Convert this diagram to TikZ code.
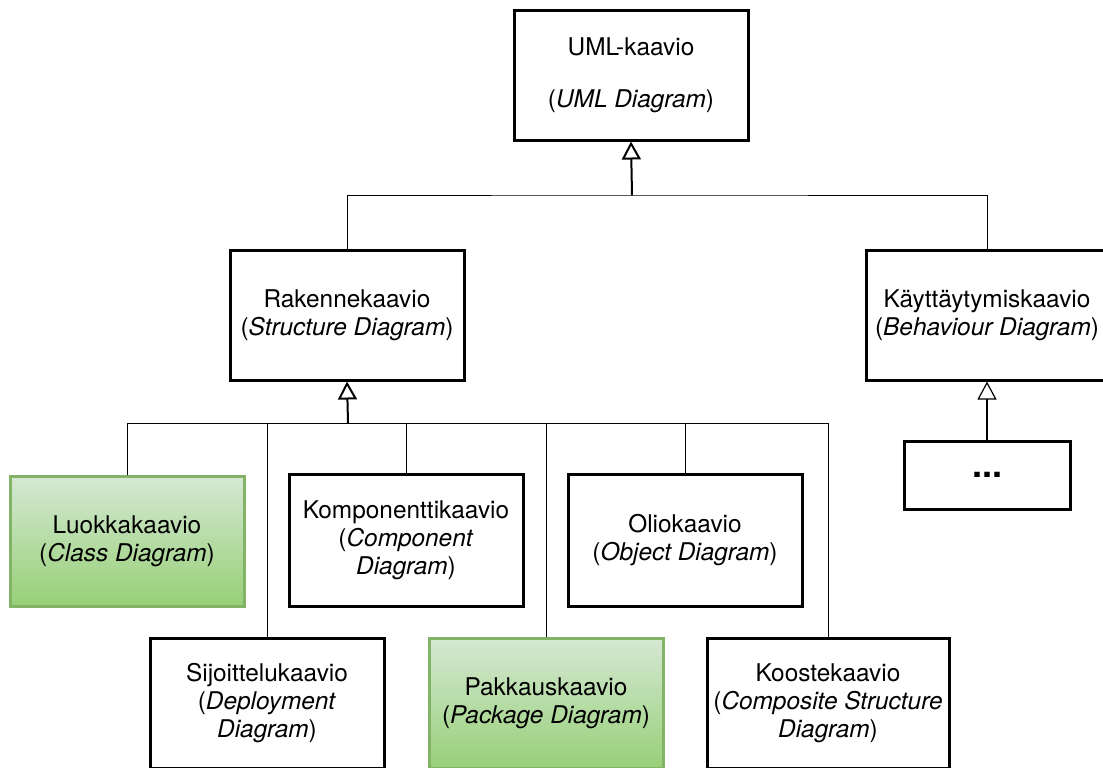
\documentclass[tikz,border=0pt]{standalone}
\usepackage{fontspec}
\setmainfont{TeX Gyre Heros}
\usetikzlibrary{arrows.meta}
\definecolor{greentop}{HTML}{D5E8D4}
\definecolor{greenbottom}{HTML}{97D077}
\definecolor{greenline}{HTML}{82B366}

\begin{document}
\begin{tikzpicture}[x=0.5pt,y=-0.5pt]
\tikzstyle{box}=[draw,line width=1.5pt,fill=white,align=center,inner sep=0pt,
  minimum width=117pt,minimum height=65pt,font=\fontsize{12.2}{14}\selectfont]
\tikzstyle{greenbox}=[box,draw=greenline,top color=greentop,bottom color=greenbottom]
\tikzstyle{link}=[line width=0.5pt]
\tikzstyle{inherit}=[-{Triangle[open,length=9pt,width=9.5pt]}]
\clip (0,0) rectangle (1103,767);
\fill[white] (0,0) rectangle (1103,767);

\node [box] (uml) at (631,75) {UML-kaavio\\[12pt](\textit{UML Diagram})};

\node [box] (rak) at (347,315) {Rakennekaavio\\(\textit{Structure Diagram})};
\node [box,minimum width=121pt] (kay) at (987,315) {Käyttäytymiskaavio\\(\textit{Behaviour Diagram})};
\node [box,minimum width=83pt,minimum height=34pt,font=\fontsize{18}{20}\selectfont\bfseries] (dots) at (987,475) {...};

\node [greenbox] (luo) at (127,541) {Luokkakaavio\\(\textit{Class Diagram})};
\node [box,minimum height=66pt] (kom) at (406,540) {Komponenttikaavio\\(\textit{Component}\\\textit{Diagram})};
\node [box,minimum height=66pt] (oli) at (685,540) {Oliokaavio\\(\textit{Object Diagram})};

\node [box] (sij) at (267,703.5) {Sijoittelukaavio\\(\textit{Deployment}\\\textit{Diagram})};
\node [greenbox] (pak) at (546,703.5) {Pakkauskaavio\\(\textit{Package Diagram})};
\node [box,minimum width=121pt] (koo) at (828,703.5) {Koostekaavio\\(\textit{Composite Structure}\\\textit{Diagram})};

\coordinate (top) at (632,195);
\coordinate (mid) at (348,423);

\draw[link] (rak.north) |- (top) -| (kay.north);
\draw[line width=1pt,inherit] (top) -- (uml.south);
\foreach \n in {luo,sij,kom,pak,oli,koo}
  \draw[link] (\n.north) |- (mid);
\draw[line width=1pt,inherit] (mid) -- (rak.south);
\draw[line width=0.6pt,inherit] (dots.north) -- (kay.south);
\end{tikzpicture}
\end{document}
